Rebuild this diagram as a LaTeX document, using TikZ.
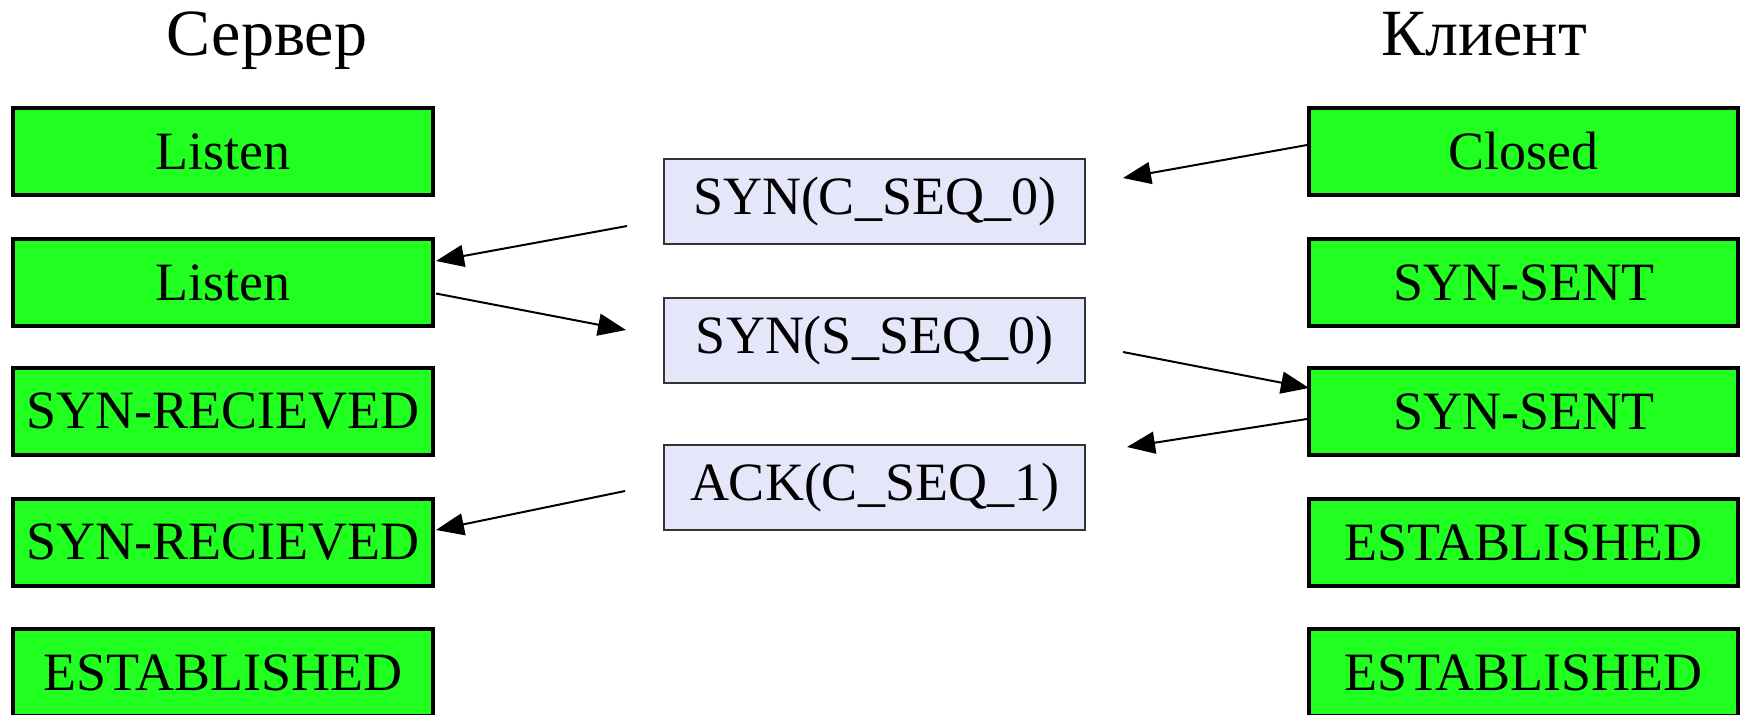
\documentclass[tikz,border=0pt]{standalone}
\usepackage{fontspec}
\setmainfont{Liberation Serif}
\usetikzlibrary{arrows.meta,calc}
\definecolor{boxgreen}{RGB}{32,255,32}
\definecolor{msgfill}{RGB}{230,230,250}
\begin{document}
\begin{tikzpicture}[x=0.5pt,y=-0.5pt,
  txt/.style={font=\fontsize{27}{30}\selectfont},
  state/.style={txt, draw=black, line width=2pt, fill=boxgreen, minimum height=43.5pt, inner sep=0pt},
  lstate/.style={state, minimum width=210pt},
  rstate/.style={state, minimum width=214.5pt},
  msg/.style={txt, draw=black!80, line width=1pt, fill=msgfill, minimum width=210.5pt, minimum height=42.5pt, inner sep=0pt},
  title/.style={font=\fontsize{33}{36}\selectfont, anchor=base, inner sep=0pt},
  arr/.style={line width=1pt, -{Triangle[length=14pt,width=11pt]}}]
\useasboundingbox (0,0) rectangle (1743,714);

% titles
\node[title] (ts) at (267,55) {Сервер};
\node[title] (tc) at (1484,55) {Клиент};

% server column
\node[lstate] (s1) at (223,151.5) {Listen};
\node[lstate] (s2) at (223,282.5) {Listen};
\node[lstate] (s3) at (223,411.5) {SYN-RECIEVED};
\node[lstate] (s4) at (223,542.5) {SYN-RECIEVED};
\node[lstate] (s5) at (223,672.5) {ESTABLISHED};

% client column
\node[rstate] (c1) at (1523.5,151.5) {Closed};
\node[rstate] (c2) at (1523.5,282.5) {SYN-SENT};
\node[rstate] (c3) at (1523.5,411.5) {SYN-SENT};
\node[rstate] (c4) at (1523.5,542.5) {ESTABLISHED};
\node[rstate] (c5) at (1523.5,672.5) {ESTABLISHED};

% messages
\node[msg] (m1) at (874.5,201.5) {SYN(C\_SEQ\_0)};
\node[msg] (m2) at (874.5,340) {SYN(S\_SEQ\_0)};
\node[msg] (m3) at (874.5,487) {ACK(C\_SEQ\_1)};

% arrows
\draw[arr] ($(c1.west)+(0,-6.5)$) -- ($(m1.east)+(37,-23.5)$);
\draw[arr] ($(m1.west)+(-36,24.5)$) -- ($(s2.east)+(1,-21.5)$);
\draw[arr] ($(s2.east)+(1,11)$) -- ($(m2.west)+(-37,-10)$);
\draw[arr] ($(m2.east)+(37,12)$) -- ($(c3.west)+(2,-23.5)$);
\draw[arr] ($(c3.west)+(0,7.5)$) -- ($(m3.east)+(41,-40)$);
\draw[arr] ($(m3.west)+(-38,4)$) -- ($(s4.east)+(1,-12.5)$);
\end{tikzpicture}
\end{document}
